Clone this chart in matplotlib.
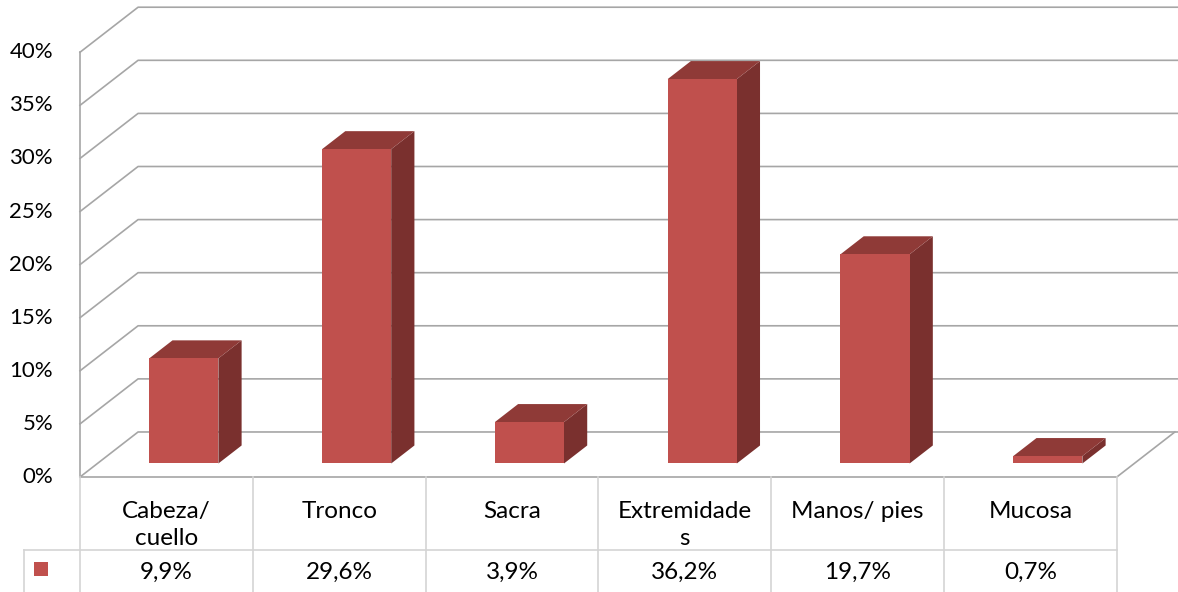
import matplotlib.pyplot as plt
from matplotlib.patches import Polygon, Rectangle

categories = ["Cabeza/\ncuello", "Tronco", "Sacra", "Extremidade\ns", "Manos/ pies", "Mucosa"]
values = [9.9, 29.6, 3.9, 36.2, 19.7, 0.7]
yticks = [0, 5, 10, 15, 20, 25, 30, 35, 40]

FRONT = "#C0504D"
TOP = "#8F3A37"
SIDE = "#7A302E"
GRID = "#A6A6A6"
TABLE = "#D4D4D4"

# oblique projection of the depth axis, in data units
DX, DY = 0.336, 4.24
BAR_W = 0.4
D0, D1 = 0.3, 0.7  # bar depth range as a fraction of floor depth

plt.rcParams["font.family"] = ["Lato", "DejaVu Sans"]
fig = plt.figure(figsize=(11.78, 5.92), dpi=100)
ax = fig.add_axes([0, 0, 1, 1])
ax.set_xlim(-0.463, 6.354)
ax.set_ylim(-10.83, 44.92)
ax.axis("off")

n = len(categories)
top = yticks[-1]

# left wall and back wall gridlines
for t in yticks:
    ax.plot([0, DX, n + DX + 0.02], [t, t + DY, t + DY], color=GRID, lw=1.2, zorder=1)
    ax.text(-0.156, t, f"{t}%", ha="right", va="center", fontsize=16)
# front left edge
ax.plot([0, 0], [0, top], color=GRID, lw=1.2, zorder=1)
# floor front and right edges
ax.plot([0, n, n + DX], [0, 0, DY], color=GRID, lw=1.2, zorder=1)

# bars
for i, v in enumerate(values):
    x0 = i + (1 - BAR_W) / 2 + D0 * DX
    x1 = x0 + BAR_W
    b = D0 * DY
    ddx = (D1 - D0) * DX
    ddy = (D1 - D0) * DY
    ax.add_patch(Polygon([(x1, b), (x1 + ddx, b + ddy), (x1 + ddx, b + ddy + v), (x1, b + v)],
                         closed=True, fc=SIDE, ec="none", zorder=3))
    ax.add_patch(Polygon([(x0, b + v), (x1, b + v), (x1 + ddx, b + v + ddy), (x0 + ddx, b + v + ddy)],
                         closed=True, fc=TOP, ec="none", zorder=3))
    ax.add_patch(Rectangle((x0, b), BAR_W, v, fc=FRONT, ec="none", zorder=4))

# data table
row_sep = -6.87
for i in range(n + 1):
    ax.plot([i, i], [0, -12], color=TABLE, lw=1.2, zorder=1)
ax.plot([-0.324, n], [row_sep, row_sep], color=TABLE, lw=1.2, zorder=1)
ax.plot([-0.324, -0.324], [row_sep, -12], color=TABLE, lw=1.2, zorder=1)
for i, (c, v) in enumerate(zip(categories, values)):
    ax.text(i + 0.5, -2.26, c, ha="center", va="top", fontsize=17.5, linespacing=1.33, zorder=2)
    ax.text(i + 0.5, -9.6, f"{v:.1f}%".replace(".", ","), ha="center", va="baseline", fontsize=17.5)
ax.add_patch(Rectangle((-0.266, -9.32), 0.081, 1.32, fc=FRONT, ec="none"))

fig.savefig("out.png", dpi=100)
